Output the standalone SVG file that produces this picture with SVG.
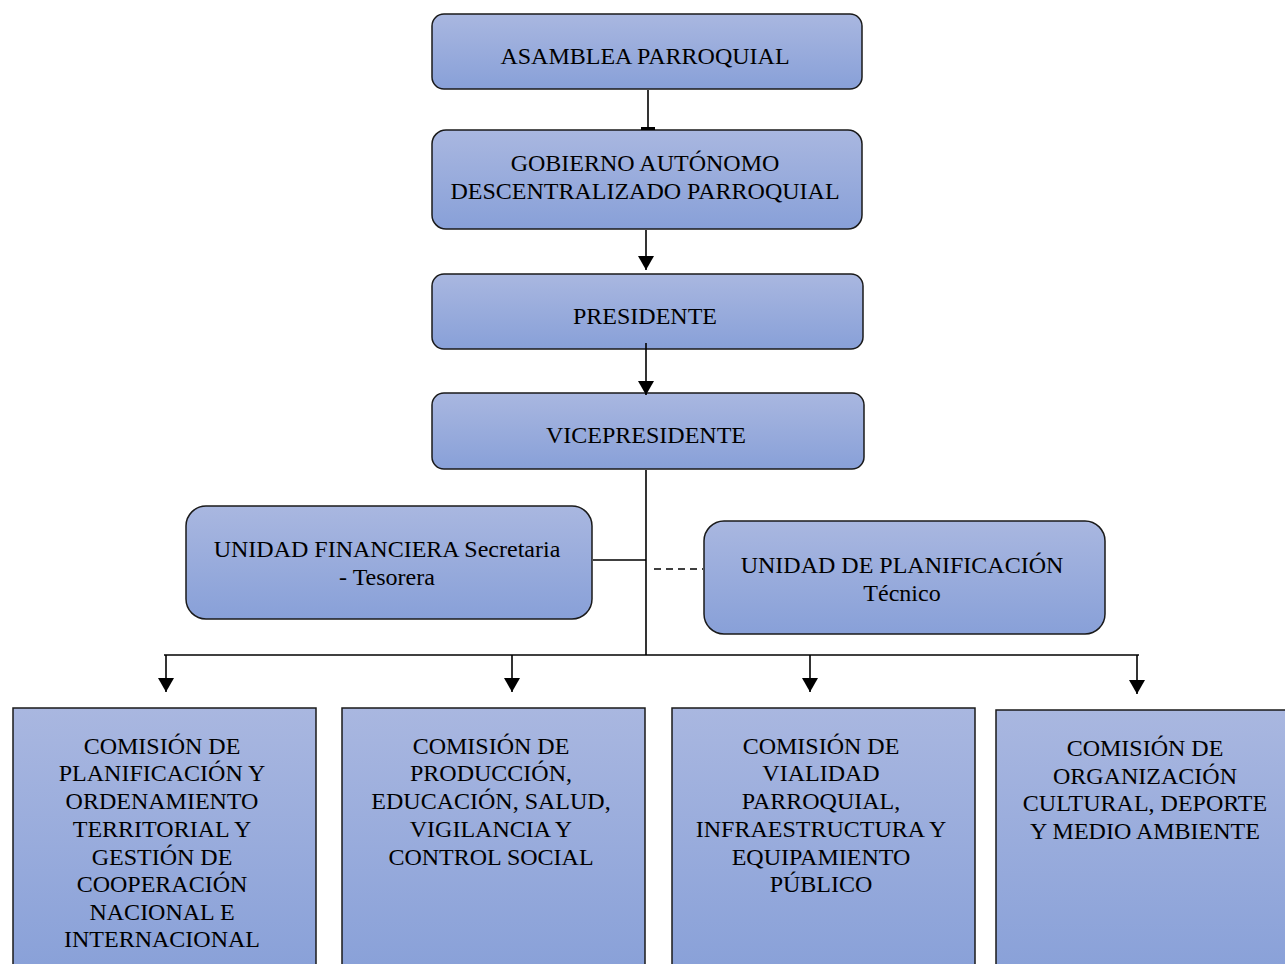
<svg xmlns="http://www.w3.org/2000/svg" width="1285" height="964" viewBox="0 0 1285 964">
<defs>
<linearGradient id="g" x1="0" y1="0" x2="0" y2="1">
<stop offset="0" stop-color="#a9b7e0"/>
<stop offset="1" stop-color="#88a0d8"/>
</linearGradient>
<marker id="arr" markerWidth="14" markerHeight="16" refX="14" refY="8" orient="auto" markerUnits="userSpaceOnUse">
<path d="M0,0 L14,8 L0,16 Z" fill="#000"/>
</marker>
<marker id="tee" markerWidth="4" markerHeight="16" refX="2" refY="8" orient="auto" markerUnits="userSpaceOnUse">
<rect x="0" y="1" width="3" height="14" fill="#000"/>
</marker>
</defs>
<style>
.box{fill:url(#g);stroke:#1a1a1a;stroke-width:1.5}
.t{font-family:"Liberation Serif","Times New Roman",serif;font-size:24px;fill:#000;text-anchor:middle}
.c{stroke:#000;stroke-width:1.6;fill:none}
</style>
<rect width="1285" height="964" fill="#fff"/>
<g id="asamblea">
<rect class="box" x="432" y="14" width="430" height="75" rx="12"/>
<text class="t" x="645" y="64">ASAMBLEA PARROQUIAL</text>
</g>
<g id="gobierno">
<rect class="box" x="432" y="130" width="430" height="99" rx="14"/>
<text class="t" x="645" y="171">GOBIERNO AUTÓNOMO</text>
<text class="t" x="645" y="199">DESCENTRALIZADO PARROQUIAL</text>
</g>
<g id="presidente">
<rect class="box" x="432" y="274" width="431" height="75" rx="12"/>
<text class="t" x="645" y="324">PRESIDENTE</text>
</g>
<g id="vicepresidente">
<rect class="box" x="432" y="393" width="432" height="76" rx="12"/>
<text class="t" x="646" y="443">VICEPRESIDENTE</text>
</g>
<g id="financiera">
<rect class="box" x="186" y="506" width="406" height="113" rx="20"/>
<text class="t" x="387" y="557">UNIDAD FINANCIERA Secretaria</text>
<text class="t" x="387" y="585">- Tesorera</text>
</g>
<g id="planificacion">
<rect class="box" x="704" y="521" width="401" height="113" rx="20"/>
<text class="t" x="902" y="573">UNIDAD DE PLANIFICACIÓN</text>
<text class="t" x="902" y="601">Técnico</text>
</g>
<g id="comision1">
<rect class="box" x="13" y="708" width="303" height="270"/>
<text class="t" x="162" y="754">COMISIÓN DE</text>
<text class="t" x="162" y="781">PLANIFICACIÓN Y</text>
<text class="t" x="162" y="809">ORDENAMIENTO</text>
<text class="t" x="162" y="837">TERRITORIAL Y</text>
<text class="t" x="162" y="865">GESTIÓN DE</text>
<text class="t" x="162" y="892">COOPERACIÓN</text>
<text class="t" x="162" y="920">NACIONAL E</text>
<text class="t" x="162" y="947">INTERNACIONAL</text>
</g>
<g id="comision2">
<rect class="box" x="342" y="708" width="303" height="270"/>
<text class="t" x="491" y="754">COMISIÓN DE</text>
<text class="t" x="491" y="781">PRODUCCIÓN,</text>
<text class="t" x="491" y="809">EDUCACIÓN, SALUD,</text>
<text class="t" x="491" y="837">VIGILANCIA Y</text>
<text class="t" x="491" y="865">CONTROL SOCIAL</text>
</g>
<g id="comision3">
<rect class="box" x="672" y="708" width="303" height="270"/>
<text class="t" x="821" y="754">COMISIÓN DE</text>
<text class="t" x="821" y="781">VIALIDAD</text>
<text class="t" x="821" y="809">PARROQUIAL,</text>
<text class="t" x="821" y="837">INFRAESTRUCTURA Y</text>
<text class="t" x="821" y="865">EQUIPAMIENTO</text>
<text class="t" x="821" y="892">PÚBLICO</text>
</g>
<g id="comision4">
<rect class="box" x="996" y="710" width="300" height="270"/>
<text class="t" x="1145" y="756">COMISIÓN DE</text>
<text class="t" x="1145" y="784">ORGANIZACIÓN</text>
<text class="t" x="1145" y="811">CULTURAL, DEPORTE</text>
<text class="t" x="1145" y="839">Y MEDIO AMBIENTE</text>
</g>
<g id="connectors">
<line class="c" x1="648" y1="90" x2="648" y2="129" marker-end="url(#tee)"/>
<line class="c" x1="646" y1="230" x2="646" y2="270" marker-end="url(#arr)"/>
<line class="c" x1="646" y1="343" x2="646" y2="395" marker-end="url(#arr)"/>
<line class="c" x1="646" y1="470" x2="646" y2="655"/>
<line class="c" x1="593" y1="560" x2="646" y2="560"/>
<line class="c" x1="654" y1="569" x2="703" y2="569" stroke-dasharray="7,5"/>
<line class="c" x1="164" y1="655" x2="1139" y2="655"/>
<line class="c" x1="166" y1="655" x2="166" y2="692" marker-end="url(#arr)"/>
<line class="c" x1="512" y1="655" x2="512" y2="692" marker-end="url(#arr)"/>
<line class="c" x1="810" y1="655" x2="810" y2="692" marker-end="url(#arr)"/>
<line class="c" x1="1137" y1="655" x2="1137" y2="694" marker-end="url(#arr)"/>
</g>
</svg>
